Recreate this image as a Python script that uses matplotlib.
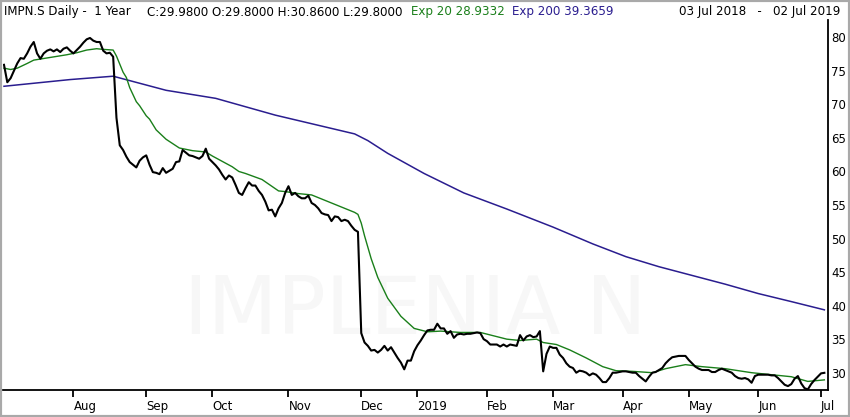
import matplotlib
matplotlib.use("Agg")
import matplotlib.pyplot as plt
import pandas as pd
from matplotlib.patches import Rectangle

# Swiss exchange closed on these weekdays
holidays = ["2018-08-01", "2018-12-24", "2018-12-25", "2018-12-26", "2018-12-31",
            "2019-01-01", "2019-01-02", "2019-04-19", "2019-04-22", "2019-05-01",
            "2019-05-30", "2019-06-10"]

month_starts = ["2018-08-01", "2018-09-01", "2018-10-01", "2018-11-01", "2018-12-01",
                "2019-01-01", "2019-02-01", "2019-03-01", "2019-04-01", "2019-05-01",
                "2019-06-01", "2019-07-01"]
month_labels = ["Aug", "Sep", "Oct", "Nov", "Dec", "2019", "Feb", "Mar", "Apr", "May",
                "Jun", "Jul"]

# daily close, one value per trading session from 03 Jul 2018
close = [
    75.9, 73.3, 73.9, 75.0, 76.1, 76.9, 76.8, 77.6, 78.6, 79.3,
    77.6, 76.8, 77.6, 78.0, 78.2, 77.9, 78.2, 77.8, 78.3, 78.5,
    78.0, 77.6, 78.1, 78.6, 79.2, 79.7, 79.9, 79.5, 79.3, 79.3,
    78.0, 77.6, 77.7, 77.1, 68.0, 63.9, 63.2, 62.2, 61.4, 61.0,
    60.6, 61.6, 62.1, 62.4, 61.0, 59.9, 59.8, 59.6, 60.5, 59.8,
    60.1, 60.4, 61.4, 61.5, 63.2, 62.8, 62.4, 62.3, 62.1, 61.9,
    62.3, 63.4, 61.9, 61.4, 60.9, 60.3, 59.5, 58.8, 59.4, 59.1,
    58.0, 56.8, 56.5, 57.5, 58.4, 57.9, 57.9, 57.1, 56.5, 55.5,
    54.2, 54.3, 53.3, 54.5, 55.3, 56.8, 57.8, 56.5, 56.8, 56.3,
    56.0, 56.0, 56.4, 55.3, 55.0, 54.5, 53.8, 53.6, 53.5, 52.6,
    53.3, 53.2, 52.6, 52.8, 52.6, 51.9, 51.3, 51.0, 35.9, 34.5,
    34.0, 33.3, 33.4, 33.0, 33.4, 34.0, 33.3, 33.8, 33.0, 32.2,
    31.5, 30.5, 31.8, 31.8, 33.2, 34.1, 34.8, 35.6, 36.3, 36.4,
    36.4, 37.3, 36.6, 36.6, 35.8, 36.2, 35.2, 35.7, 35.8, 35.7,
    35.8, 35.8, 35.9, 36.0, 35.9, 35.0, 34.7, 34.2, 34.2, 34.2,
    33.9, 34.2, 33.9, 34.2, 34.1, 34.0, 35.6, 34.8, 35.4, 35.6,
    35.3, 35.4, 36.2, 30.2, 32.8, 33.9, 33.7, 33.7, 32.7, 32.2,
    31.4, 30.9, 30.7, 30.0, 30.3, 30.2, 30.0, 29.6, 29.9, 29.7,
    29.2, 28.6, 28.6, 29.2, 30.0, 30.0, 30.1, 30.2, 30.2, 30.1,
    30.0, 30.0, 29.5, 29.1, 28.7, 29.4, 30.0, 30.1, 30.4, 30.7,
    31.4, 31.9, 32.3, 32.4, 32.5, 32.5, 32.5, 31.9, 31.4, 30.9,
    30.6, 30.4, 30.4, 30.4, 30.1, 30.1, 30.4, 30.6, 30.4, 30.2,
    30.0, 29.5, 29.2, 29.1, 29.2, 29.0, 28.5, 29.5, 29.7, 29.7,
    29.7, 29.7, 29.6, 29.6, 29.2, 28.7, 28.2, 28.0, 28.3, 29.1,
    29.5, 28.4, 27.7, 27.5, 28.3, 28.9, 29.4, 29.9, 29.98,
]

# moving averages (session number, value)
ema20_day = [0, 2, 4, 7, 9, 14, 19, 22, 25, 28, 30, 33, 34, 36, 37, 38, 40, 41, 43, 44,
             46, 49, 53, 57, 61, 63, 69, 71, 73, 78, 83, 85, 89, 93, 98, 103, 106, 107,
             108, 109, 111, 113, 116, 120, 124, 128, 132, 138, 144, 148, 152, 156, 161,
             163, 167, 171, 176, 181, 185, 190, 196, 200, 206, 211, 218, 226, 232, 238,
             243, 248]
ema20 = [75.4, 75.2, 75.4, 76.1, 76.6, 77.0, 77.4, 77.7, 78.1, 78.3, 78.2, 78.1, 77.2,
         74.8, 74.0, 72.5, 70.4, 69.8, 68.3, 67.8, 66.2, 64.8, 63.5, 63.1, 62.9, 62.3,
         60.7, 60.0, 59.7, 58.8, 57.1, 57.0, 56.7, 56.5, 55.5, 54.5, 53.9, 53.6, 52.3,
         50.4, 47.0, 44.2, 41.1, 38.4, 36.6, 36.1, 36.2, 36.0, 36.0, 35.5, 35.0, 34.8,
         35.0, 34.5, 34.2, 33.4, 32.2, 30.9, 30.3, 30.2, 30.0, 30.6, 31.2, 30.9, 30.6,
         30.0, 29.7, 29.4, 28.7, 28.93]

ema200_day = [0, 10, 20, 33, 49, 64, 82, 106, 110, 116, 127, 139, 152, 166, 178, 188,
              198, 208, 218, 228, 238, 248]
ema200 = [72.7, 73.2, 73.7, 74.2, 72.1, 70.9, 68.4, 65.6, 64.6, 62.7, 59.7, 56.8, 54.4,
          51.7, 49.2, 47.3, 45.8, 44.5, 43.2, 41.8, 40.6, 39.37]

y_ticks = [30, 35, 40, 45, 50, 55, 60, 65, 70, 75, 80]

sessions = pd.bdate_range("2018-07-03", "2019-07-02")
sessions = sessions[~sessions.isin(pd.to_datetime(holidays))]
tick_pos = [int(sessions.searchsorted(pd.Timestamp(m))) for m in month_starts]

W, H = 850, 417
fig = plt.figure(figsize=(W / 100, H / 100), dpi=100)
ax = fig.add_axes([3 / W, 27 / H, 825 / W, 370 / H])

ax.text(0.5, 0.21, "IMPLENIA N", transform=ax.transAxes, ha="center", va="center",
        fontsize=58, color="#f7f7f7", zorder=0)

ax.plot(ema200_day, ema200, color="#2a1d8f", lw=1.1, zorder=2)
ax.plot(ema20_day, ema20, color="#1a7f1a", lw=1.0, zorder=3)
ax.plot(range(len(close)), close, color="black", lw=1.5, zorder=4)

ax.set_xlim(-0.3, 249.1)
ax.set_ylim(27.42, 82.58)

for s in ["left", "top"]:
    ax.spines[s].set_visible(False)
for s in ["right", "bottom"]:
    ax.spines[s].set_linewidth(1.3)

ax.yaxis.tick_right()
ax.set_yticks(y_ticks)
ax.tick_params(axis="y", length=0, pad=2.5, labelsize=8.5)
ax.set_xticks(tick_pos)
ax.set_xticklabels(month_labels, ha="left")
ax.tick_params(axis="x", direction="out", length=5, width=1.3, pad=2.5, labelsize=8.5)

fs = 8.6
ty = 1 - 12 / H
fig.text(4 / W, ty, "IMPN.S Daily -  1 Year", fontsize=fs, va="center")
fig.text(147 / W, ty, "C:29.9800 O:29.8000 H:30.8600 L:29.8000", fontsize=fs, va="center")
fig.text(411 / W, ty, "Exp 20 28.9332", fontsize=fs, va="center", color="#1a7f1a")
fig.text(512 / W, ty, "Exp 200 39.3659", fontsize=fs, va="center", color="#2a1d8f")
fig.text(840 / W, ty, "03 Jul 2018   -   02 Jul 2019", fontsize=fs, va="center", ha="right")

fig.patches.append(Rectangle((0, 0), 1, 1, transform=fig.transFigure, fill=False,
                             edgecolor="#a9a9a9", lw=3, clip_on=False))

fig.savefig("out.png", dpi=100)
